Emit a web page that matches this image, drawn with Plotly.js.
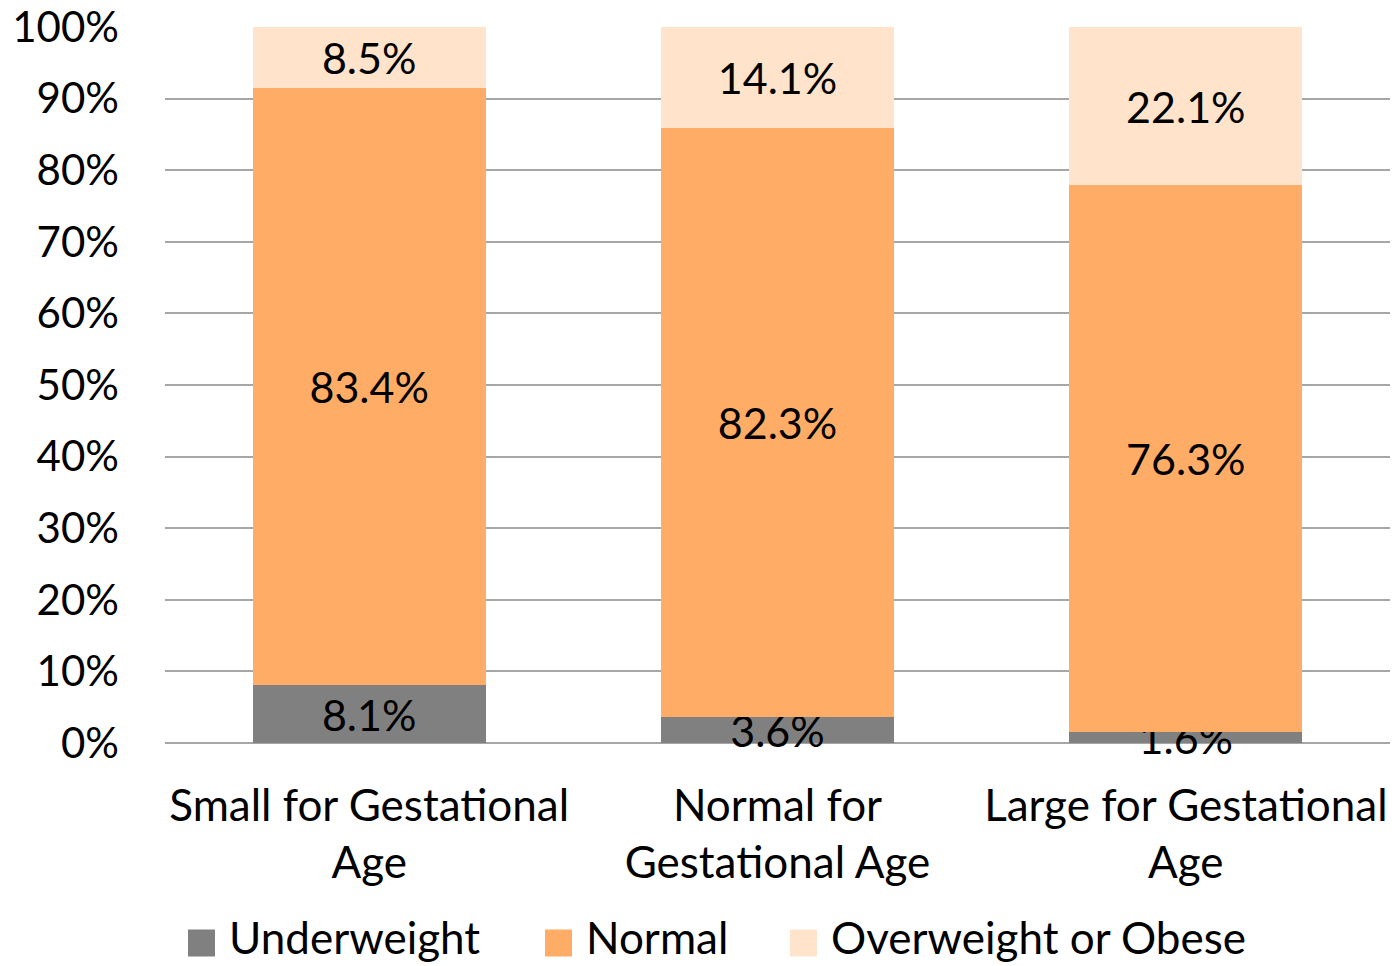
<!DOCTYPE html>
<html>
<head>
<meta charset="utf-8">
<script src="https://cdn.plot.ly/plotly-3.0.1.min.js"></script>
<style>html,body{margin:0;padding:0;background:#fff;}#chart{width:1395px;height:966px;}</style>
</head>
<body>
<div id="chart"></div>
<script>
const categories = ["Small for Gestational<br>Age", "Normal for<br>Gestational Age", "Large for Gestational<br>Age"];
const underweight = [8.1, 3.6, 1.6];
const normal = [83.4, 82.3, 76.3];
const overweight = [8.5, 14.1, 22.1];
const seriesNames = ["Underweight", "Normal", "Overweight or Obese"];
const colors = ["#808080", "#FFAD66", "#FFE3CA"];
const yTickVals = [0, 10, 20, 30, 40, 50, 60, 70, 80, 90, 100];
const yTickText = ["0%", "10%", "20%", "30%", "40%", "50%", "60%", "70%", "80%", "90%", "100%"];

const FONT = "Lato, 'Open Sans', sans-serif";
const W = 1395, H = 966;
const series = [underweight, normal, overweight];
const traces = series.map((vals, i) => ({
  type: "bar",
  name: seriesNames[i],
  x: categories,
  y: vals,
  marker: {color: colors[i]},
  width: 0.57,
  text: vals.map(v => v.toFixed(1) + "%"),
  textposition: "inside",
  insidetextanchor: "middle",
  constraintext: "none",
  textangle: 0,
  insidetextfont: {family: FONT, size: 43, color: "#000"},
  hoverinfo: "none",
  cliponaxis: false,
  showlegend: false
}));

// Manual legend (large square swatches like the reference), built from seriesNames/colors
const legendX = [188, 545, 790]; // left edge of each swatch, px
const swatchYc = 943;            // swatch vertical centre, px
const textYc = 937;              // text vertical centre, px
const sw = 27;
const px2x = p => (p - 165) / (W - 170);
const px2y = p => (H - 223 - p) / (H - 250);
const shapes = [];
const annotations = [];
seriesNames.forEach((n, i) => {
  shapes.push({
    type: "rect", xref: "paper", yref: "paper",
    x0: px2x(legendX[i]), x1: px2x(legendX[i] + sw),
    y0: px2y(swatchYc + sw / 2), y1: px2y(swatchYc - sw / 2),
    fillcolor: colors[i], line: {width: 0}
  });
  annotations.push({
    xref: "paper", yref: "paper",
    x: px2x(legendX[i] + sw + 13),
    y: px2y(textYc),
    xanchor: "left", yanchor: "middle",
    borderpad: 0,
    text: n, showarrow: false,
    font: {family: FONT, size: 44, color: "#000"}
  });
});

const layout = {
  barmode: "stack",
  width: W,
  height: H,
  margin: {l: 165, r: 5, t: 27, b: 223},
  paper_bgcolor: "#fff",
  plot_bgcolor: "#fff",
  font: {family: FONT, size: 42, color: "#000"},
  showlegend: false,
  shapes: shapes,
  annotations: annotations,
  xaxis: {
    type: "category",
    automargin: false,
    showgrid: false,
    showline: false,
    zeroline: false,
    ticks: "",
    tickfont: {family: FONT, size: 44, color: "#000"},
    ticklabelstandoff: 33
  },
  yaxis: {
    automargin: false,
    range: [0, 100],
    tickvals: yTickVals,
    ticktext: yTickText,
    showgrid: true,
    gridcolor: "#A6A6A6",
    gridwidth: 2,
    zeroline: true,
    zerolinecolor: "#A6A6A6",
    zerolinewidth: 2,
    showline: false,
    ticks: "",
    tickfont: {family: FONT, size: 42, color: "#000"},
    ticklabelstandoff: 45
  }
};

Plotly.newPlot("chart", traces, layout, {displayModeBar: false, staticPlot: true});
</script>
</body>
</html>
